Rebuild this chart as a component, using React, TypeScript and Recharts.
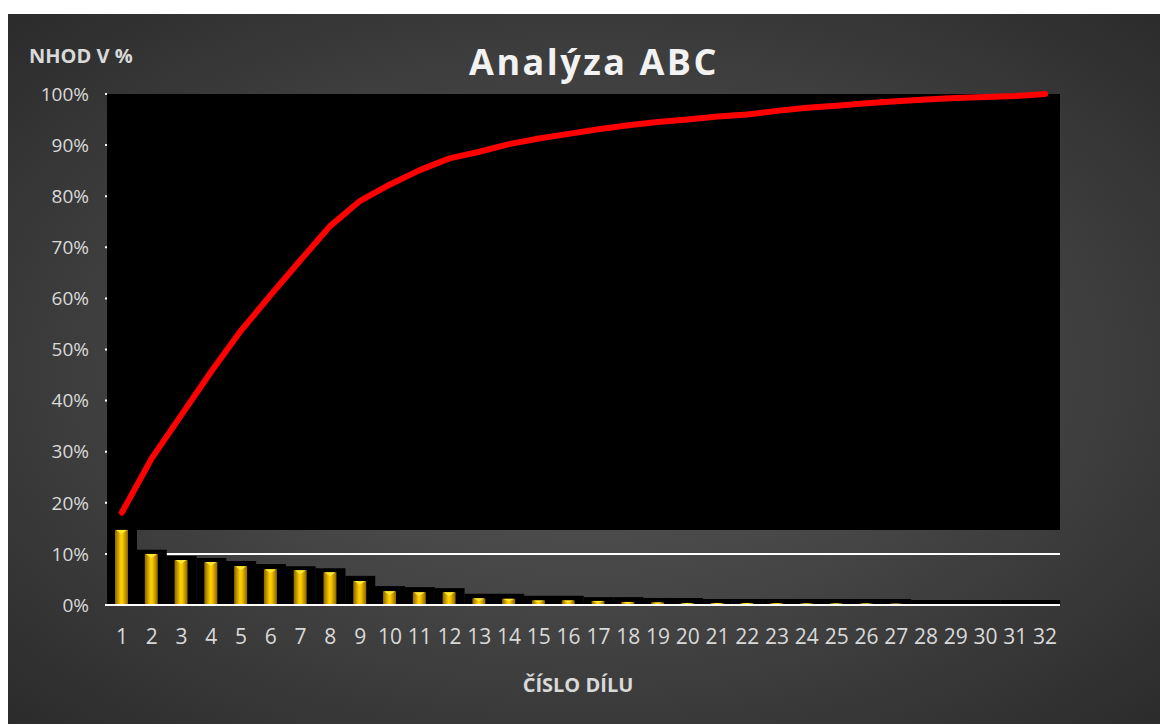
import { ComposedChart, Bar, Line, XAxis, YAxis, CartesianGrid, ReferenceArea } from 'recharts';

const parts = ['1', '2', '3', '4', '5', '6', '7', '8', '9', '10', '11', '12', '13', '14', '15', '16', '17', '18', '19', '20', '21', '22', '23', '24', '25', '26', '27', '28', '29', '30', '31', '32'];
const share = [14.7, 10.0, 8.8, 8.4, 7.6, 7.0, 6.8, 6.4, 4.7, 2.7, 2.5, 2.5, 1.3, 1.2, 0.9, 0.9, 0.8, 0.6, 0.5, 0.4, 0.4, 0.4, 0.35, 0.3, 0.3, 0.3, 0.25, 0.2, 0.15, 0.1, 0.1, 0.1];
const shadow = [14.7, 10.8, 9.6, 9.2, 8.6, 8.0, 7.6, 7.2, 5.7, 3.7, 3.5, 3.3, 2.2, 2.2, 1.8, 1.8, 1.55, 1.55, 1.37, 1.37, 1.17, 1.17, 1.17, 1.17, 1.17, 1.17, 1.17, 0.98, 0.98, 0.98, 0.98, 0.98];
const cumulative = [18.1, 28.7, 37.2, 45.7, 53.7, 60.7, 67.5, 74.2, 79.1, 82.3, 85.1, 87.4, 88.7, 90.2, 91.3, 92.2, 93.1, 93.9, 94.5, 95.0, 95.6, 96.0, 96.7, 97.3, 97.7, 98.2, 98.6, 98.9, 99.2, 99.4, 99.6, 100];
const yTicks = [0, 10, 20, 30, 40, 50, 60, 70, 80, 90, 100];

const data = parts.map((p, i) => ({ part: p, share: share[i], shadow: shadow[i], cum: cumulative[i] }));

const font = '"Open Sans", sans-serif';
const txt = '#d9d9d9';

function GoldBar(props: any) {
  const { x, y, width, height } = props;
  if (!height || height <= 0) return null;
  const b = Math.min(4, height * 0.45);
  return (
    <g>
      <rect x={x} y={y} width={width} height={height} fill="url(#gold)" />
      <polygon points={`${x + 1},${y} ${x + width - 1},${y} ${x + width / 2},${y + b}`} fill="#ffe633" />
    </g>
  );
}

export default function App() {
  return (
    <div
      style={{
        position: 'relative',
        width: 1160,
        height: 710,
        marginTop: 6,
        background: 'radial-gradient(ellipse at 50% 50%, #585858 0%, #464646 45%, #2b2b2b 100%)',
        fontFamily: font,
      }}
    >
      <ComposedChart
        width={1160}
        height={710}
        data={data}
        barCategoryGap={0}
        barGap={0}
        margin={{ top: 80, right: 0, bottom: 0, left: 0 }}
      >
        <defs>
          <linearGradient id="gold" x1="0" y1="0" x2="1" y2="0">
            <stop offset="0%" stopColor="#8a6400" />
            <stop offset="45%" stopColor="#ffd000" />
            <stop offset="60%" stopColor="#f5c400" />
            <stop offset="100%" stopColor="#8a6400" />
          </linearGradient>
        </defs>
        <CartesianGrid horizontalValues={[10]} vertical={false} stroke="#ffffff" strokeWidth={2} yAxisId="l" />
        <XAxis
          dataKey="part"
          height={119}
          tickSize={0}
          tickMargin={24}
          tickLine={false}
          axisLine={{ stroke: '#ffffff', strokeWidth: 2 }}
          tick={{ fill: txt, fontSize: 21, fontFamily: font }}
          interval={0}
        />
        <XAxis dataKey="part" xAxisId="s" hide />
        <YAxis
          yAxisId="l"
          width={99}
          domain={[0, 100]}
          ticks={yTicks}
          tickFormatter={(v: number) => `${v}%`}
          tickSize={2}
          tickMargin={16}
          axisLine={false}
          tickLine={{ stroke: '#ffffff', strokeWidth: 2 }}
          tick={{ fill: txt, fontSize: 19, fontFamily: font }}
        />
        <YAxis
          yAxisId="r"
          orientation="right"
          width={108}
          domain={[0, 100]}
          ticks={yTicks}
          tickFormatter={(v: number) => `${v.toFixed(2).replace('.', ',')}%`}
          tickSize={2}
          tickMargin={20}
          axisLine={false}
          tickLine={{ stroke: '#ffffff', strokeWidth: 2 }}
          tick={{ fill: txt, fontSize: 19, fontFamily: font, textAnchor: 'start' }}
        />
        <ReferenceArea yAxisId="l" y1={14.7} y2={100} fill="#000000" fillOpacity={1} stroke="none" />
        <Bar dataKey="shadow" xAxisId="s" yAxisId="l" fill="#000000" isAnimationActive={false} />
        <Bar dataKey="share" yAxisId="l" barSize={13} shape={GoldBar} isAnimationActive={false} />
        <Line
          dataKey="cum"
          yAxisId="l"
          type="linear"
          stroke="#ff0000"
          strokeWidth={6}
          strokeLinecap="round"
          strokeLinejoin="round"
          dot={false}
          isAnimationActive={false}
        />
      </ComposedChart>
      <svg width={1160} height={710} style={{ position: 'absolute', left: 0, top: 0, pointerEvents: 'none' }}>
        <text x={586} y={61} textAnchor="middle" fill="#f2f2f2" fontSize={36} fontWeight="bold" letterSpacing={2.5} fontFamily={font}>
          Analýza ABC
        </text>
        <text x={21} y={49} fill={txt} fontSize={20} fontWeight="bold" fontFamily={font}>
          NHOD V %
        </text>
        <text x={570} y={678} textAnchor="middle" fill={txt} fontSize={20} fontWeight="bold" fontFamily={font}>
          ČÍSLO DÍLU
        </text>
      </svg>
    </div>
  );
}
